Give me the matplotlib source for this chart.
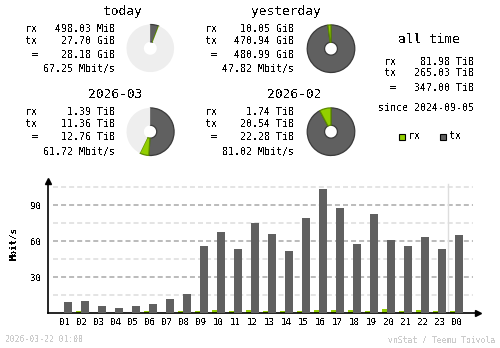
import matplotlib
matplotlib.use("Agg")
import matplotlib.pyplot as plt
from matplotlib.patches import Rectangle

# colours used by the vnStat image output
RX_COLOR = "#92cf00"
RX_EDGE = "#5c8a00"
TX_COLOR = "#606060"
TX_EDGE = "#3a3a3a"
PIE_BG = "#eeeeee"

# summary numbers
today = {"rx": "498.03 MiB", "tx": "27.70 GiB", "total": "28.18 GiB", "rate": "67.25 Mbit/s"}
yesterday = {"rx": "10.05 GiB", "tx": "470.94 GiB", "total": "480.99 GiB", "rate": "47.82 Mbit/s"}
month_cur = {"rx": "1.39 TiB", "tx": "11.36 TiB", "total": "12.76 TiB", "rate": "61.72 Mbit/s"}
month_prev = {"rx": "1.74 TiB", "tx": "20.54 TiB", "total": "22.28 TiB", "rate": "81.02 Mbit/s"}
alltime = {"rx": "81.98 TiB", "tx": "265.03 TiB", "total": "347.00 TiB"}
since = "2024-09-05"

# pie values (GiB for days, TiB for months)
today_rx, today_tx = 498.03 / 1024, 27.70
yday_rx, yday_tx = 10.05, 470.94
mcur_rx, mcur_tx = 1.39, 11.36
mprev_rx, mprev_tx = 1.74, 20.54

# hourly average rates, Mbit/s
hours = ["01", "02", "03", "04", "05", "06", "07", "08", "09", "10", "11", "12",
         "13", "14", "15", "16", "17", "18", "19", "20", "21", "22", "23", "00"]
tx_rate = [9.7, 10.3, 6.4, 4.7, 6.4, 7.5, 11.9, 16.1, 56.1, 67.8, 53.6, 75.3,
           66.1, 51.9, 79.4, 103.6, 87.8, 57.8, 82.8, 61.1, 56.1, 63.6, 53.6, 65.3]
rx_rate = [0.0, 1.6, 0.0, 0.0, 0.0, 1.6, 0.0, 1.6, 1.6, 2.4, 1.6, 2.4,
           1.6, 1.6, 1.6, 2.4, 2.4, 2.4, 1.6, 3.3, 1.6, 2.4, 1.6, 1.6]

W, H = 500, 348
plt.rcParams["text.antialiased"] = False
plt.rcParams["lines.scale_dashes"] = False
MONO = "DejaVu Sans Mono"
SMALL = 7.2
LARGE = 9.3
TINY = 5.9
AXIS = 6.6

fig = plt.figure(figsize=(W / 100, H / 100), dpi=100)
fig.patch.set_facecolor("white")


def px_text(x, y, s, size=SMALL, ha="left", color="black", **kw):
    fig.text(x / W, 1 - y / H, s, fontsize=size, ha=ha, va="center",
             family=MONO, color=color, **kw)


def block(x0, title_y, rows_y, title, d, title_right):
    px_text(title_right, title_y, title, size=LARGE, ha="right")
    px_text(x0 + 12.5, rows_y[0], "rx", ha="right")
    px_text(x0 + 12.5, rows_y[1], "tx", ha="right")
    px_text(x0 + 12.5, rows_y[2], "=", ha="right")
    px_text(x0 + 90, rows_y[0], d["rx"], ha="right")
    px_text(x0 + 90, rows_y[1], d["tx"], ha="right")
    px_text(x0 + 90, rows_y[2], d["total"], ha="right")
    px_text(x0 + 90, rows_y[3], d["rate"], ha="right")


def pie(cx, cy, rx, tx, ref):
    r = 24.5
    ax = fig.add_axes([(cx - r) / W, 1 - (cy + r) / H, 2 * r / W, 2 * r / H])
    rest = max(ref - rx - tx, 0)
    wedges, _ = ax.pie([tx, rx, rest], colors=[TX_COLOR, RX_COLOR, PIE_BG],
                       startangle=90, counterclock=False, radius=1,
                       wedgeprops=dict(width=0.73, linewidth=0.9))
    wedges[0].set_edgecolor(TX_EDGE)
    wedges[1].set_edgecolor(RX_EDGE)
    wedges[2].set_edgecolor("none")
    ax.set_xlim(-1.03, 1.03)
    ax.set_ylim(-1.03, 1.03)
    ax.axis("off")


block(25, 11.7, [29.3, 41.3, 54.7, 69.0], "today", today, 142)
block(204.5, 11.7, [29.3, 41.3, 54.7, 69.0], "yesterday", yesterday, 321)
block(25, 94.3, [111.7, 124.0, 137.3, 152.3], "2026-03", month_cur, 142)
block(204.5, 94.3, [111.7, 124.0, 137.3, 152.3], "2026-02", month_prev, 321)

pie(150.3, 48.3, today_rx, today_tx, yday_rx + yday_tx)
pie(331.0, 48.7, yday_rx, yday_tx, yday_rx + yday_tx)
pie(150.3, 131.7, mcur_rx, mcur_tx, mprev_rx + mprev_tx)
pie(331.0, 131.7, mprev_rx, mprev_tx, mprev_rx + mprev_tx)

# all time column
px_text(429, 39.3, "all time", size=LARGE, ha="center")
px_text(396, 61.7, "rx", ha="right")
px_text(396, 73.3, "tx", ha="right")
px_text(396, 87.7, "=", ha="right")
px_text(474, 61.7, alltime["rx"], ha="right")
px_text(474, 73.3, alltime["tx"], ha="right")
px_text(474, 87.7, alltime["total"], ha="right")
px_text(474, 107.7, "since " + since, ha="right")

for lx, col, name in [(398.5, RX_COLOR, "rx"), (440, TX_COLOR, "tx")]:
    fig.add_artist(Rectangle((lx / W, 1 - 139.5 / H), 6 / W, 6 / H,
                             transform=fig.transFigure, facecolor=col,
                             edgecolor="black", linewidth=0.8))
    px_text(lx + 9.5, 136, name)

# hourly bar chart
x0, x1, yb, yt = 48, 478, 313.3, 181
ax = fig.add_axes([x0 / W, 1 - yb / H, (x1 - x0) / W, (yb - yt) / H])
ax.set_xlim(-1, (x1 - x0) / 17.03 - 1)
ax.set_ylim(0, 110)
ax.patch.set_alpha(0)

for v in range(15, 110, 15):
    c = "#a8a8a8" if v % 30 == 0 else "#dcdcdc"
    ax.axhline(v, xmin=0.012, xmax=0.988, color=c, lw=1.1,
               linestyle=(0, (3.6, 2.2)), zorder=0)

ax.axvline(22.47, ymin=0, ymax=0.98, color="#dddddd", lw=1, zorder=0)

pos = list(range(len(hours)))
bw = 8 / 17.03
ax.bar([p - 6.5 / 17.03 for p in pos], rx_rate, width=bw, align="edge",
       color=RX_COLOR, zorder=2)
ax.bar([p - 1.5 / 17.03 for p in pos], tx_rate, width=bw, align="edge",
       color=TX_COLOR, zorder=3)

for s in ["top", "right"]:
    ax.spines[s].set_visible(False)
for s in ["left", "bottom"]:
    ax.spines[s].set_linewidth(1.2)
    ax.spines[s].set_color("black")
ax.plot(1, 0, ">k", ms=4, transform=ax.get_yaxis_transform(), clip_on=False, zorder=5)
ax.plot(-1, 1, "^k", ms=4, transform=ax.get_xaxis_transform(), clip_on=False, zorder=5)

ax.set_xticks(pos)
ax.set_xticklabels(hours, family=MONO, fontsize=AXIS)
ax.set_yticks([30, 60, 90])
ax.set_yticklabels(["30", "60", "90"], family=MONO, fontsize=AXIS)
ax.tick_params(axis="x", length=0, pad=3.5)
ax.tick_params(axis="y", length=0, pad=5)

px_text(14, 243, "Mbit/s", size=AXIS, ha="center", rotation=90, fontweight="bold")

# footer
px_text(5, 340, "2026-03-22 01:00", size=TINY, color="#cccccc")
px_text(495, 340, "vnStat / Teemu Toivola", size=TINY, ha="right", color="#cccccc")

fig.savefig("out.png", dpi=100, facecolor="white")
